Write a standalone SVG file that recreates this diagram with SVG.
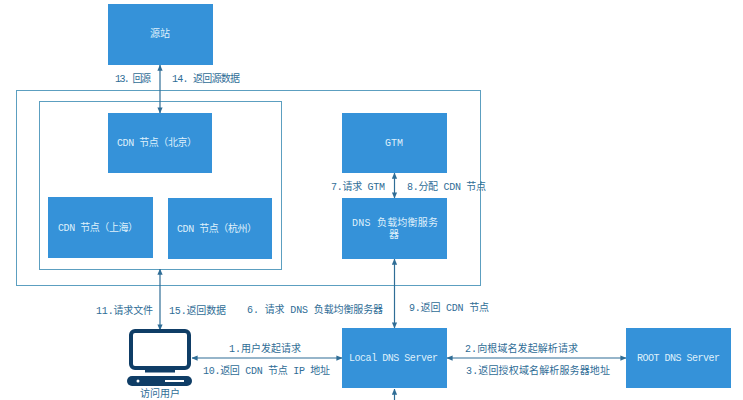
<svg xmlns="http://www.w3.org/2000/svg" width="743" height="400" viewBox="0 0 743 400">
<style>
text{font-family:"Liberation Mono","Noto Sans CJK SC",monospace;font-size:10px}
.b{fill:#3592d9}
.w{fill:#dff0fb}
.l{fill:#2f6d96}
.f{fill:none;stroke:#5c9fc0;stroke-width:1}
.c{fill:none;stroke:#2f6d96;stroke-width:1.2;marker-start:url(#a);marker-end:url(#a)}
.u{fill:none;stroke:#2f6d96;stroke-width:1.2;marker-end:url(#a)}
</style>
<defs>
<marker id="a" viewBox="0 0 8 8" refX="7.5" refY="4" markerWidth="6" markerHeight="6" markerUnits="userSpaceOnUse" orient="auto-start-reverse"><path d="M0 0.5L8 4L0 7.5z" fill="#2f6d96"/></marker>
</defs>
<rect width="743" height="400" fill="#fff"/>
<g id="frames">
<rect class="f" x="16.5" y="90.5" width="464" height="195"/>
<rect class="f" x="39.5" y="101.5" width="242" height="168"/>
</g>
<g id="connectors">
<path class="c" d="M160 65V113"/>
<path class="c" d="M160 269V330"/>
<path class="c" d="M394.500 173V198"/>
<path class="c" d="M394.500 259V328"/>
<path class="c" d="M192 358H342"/>
<path class="c" d="M447 358H626"/>
<path class="u" d="M394.500 400V389"/>
</g>
<g id="source"><rect class="b" x="108" y="4" width="105" height="61"/><text class="w" x="150" y="37" textLength="20">源站</text></g>
<g id="cdn-beijing"><rect class="b" x="108" y="113" width="104" height="60"/><text class="w" x="117" y="146" textLength="80">CDN 节点（北京）</text></g>
<g id="cdn-shanghai"><rect class="b" x="48" y="197" width="105" height="61"/><text class="w" x="58" y="231" textLength="80">CDN 节点（上海）</text></g>
<g id="cdn-hangzhou"><rect class="b" x="168" y="198" width="104" height="61"/><text class="w" x="177" y="232" textLength="80">CDN 节点（杭州）</text></g>
<g id="gtm"><rect class="b" x="342" y="113" width="105" height="60"/><text class="w" x="385" y="146" textLength="18">GTM</text></g>
<g id="dns-lb"><rect class="b" x="342" y="198" width="105" height="61"/><text class="w" x="352" y="226" textLength="86">DNS 负载均衡服务</text><text class="w" x="389" y="238">器</text></g>
<g id="local-dns"><rect class="b" x="342" y="328" width="105" height="60"/><text class="w" x="349" y="361" textLength="89">Local DNS Server</text></g>
<g id="root-dns"><rect class="b" x="626" y="328" width="105" height="60"/><text class="w" x="637" y="361" textLength="83">ROOT DNS Server</text></g>
<g id="user">
<rect x="131" y="331" width="58" height="37" rx="4" fill="#fff" stroke="#0f3d66" stroke-width="4"/>
<rect x="145" y="369" width="30" height="3.500" fill="#0f3d66"/>
<rect x="127" y="376" width="65" height="10" rx="5" fill="#0f3d66"/>
<circle cx="138" cy="381" r="1.500" fill="#fff"/>
<rect x="165" y="380" width="19" height="2" fill="#fff"/>
<text class="l" x="140" y="397" textLength="40">访问用户</text>
</g>
<g id="labels">
<text class="l" x="115" y="82" textLength="36">13. 回源</text>
<text class="l" x="172" y="82" textLength="68">14. 返回源数据</text>
<text class="l" x="331" y="190" textLength="54">7.请求 GTM</text>
<text class="l" x="407" y="190" textLength="79">8.分配 CDN 节点</text>
<text class="l" x="409" y="311" textLength="80">9.返回 CDN 节点</text>
<text class="l" x="96" y="314" textLength="57">11.请求文件</text>
<text class="l" x="169" y="314" textLength="57">15.返回数据</text>
<text class="l" x="247" y="313" textLength="136">6. 请求 DNS 负载均衡服务器</text>
<text class="l" x="229" y="352" textLength="72">1.用户发起请求</text>
<text class="l" x="203" y="374" textLength="127">10.返回 CDN 节点 IP 地址</text>
<text class="l" x="465" y="352" textLength="113">2.向根域名发起解析请求</text>
<text class="l" x="466" y="374" textLength="144">3.返回授权域名解析服务器地址</text>
</g>
</svg>
